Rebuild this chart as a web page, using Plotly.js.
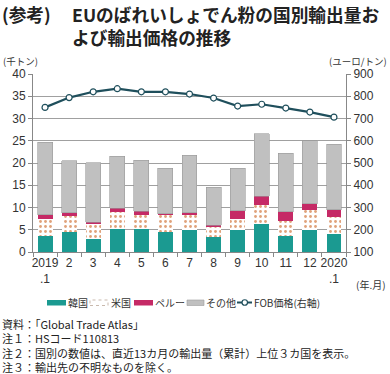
<!DOCTYPE html>
<html>
<head>
<meta charset="utf-8">
<script src="https://cdn.plot.ly/plotly-3.0.1.min.js"></script>
<style>
html,body{margin:0;padding:0;background:#fff;}
#chart{width:390px;height:374px;}
</style>
</head>
<body>
<div id="chart"></div>
<script>
var categories = ["2019<br>.1","2","3","4","5","6","7","8","9","10","11","12","2020<br>.1"];
var korea = [3.7,4.4,3.0,5.2,5.2,4.5,5.0,3.4,4.9,6.3,3.5,4.85,4.0];
var usa   = [3.7,3.7,3.3,3.8,3.2,3.9,3.4,2.2,2.6,4.3,3.4,4.65,3.8];
var peru  = [1.0,0.7,0.4,0.85,0.8,0.2,0.4,0.4,1.8,1.9,2.1,1.3,1.7];
var other = [16.3,11.7,13.4,11.65,11.4,10.2,12.9,8.6,9.5,14.1,13.2,14.2,14.7];
var fobPrice = [750,794,820,834,820,820,810,792,756,764,747,729,706];
var leftTicks = [0,5,10,15,20,25,30,35,40];
var rightTicks = [100,200,300,400,500,600,700,800,900];
var seriesNames = ['韓国','米国','ペルー','その他','FOB価格(右軸)'];
var noteLines = ['資料：「Global Trade Atlas」','注１：HSコード110813','注２：国別の数値は、直近13カ月の輸出量（累計）上位３カ国を表示。','注３：輸出先の不明なものを除く。'];

var font = "'Noto Sans CJK JP', 'Noto Sans', sans-serif";
var numFont = "'Liberation Sans', Arial, sans-serif";
var cKorea = '#1b9a91', cPeru = '#c52a66', cOther = '#c0c0c0', cLine = '#1f4f5c';
var bw = 0.62;
var traces = [
  {type:'bar', name:seriesNames[0], x:categories, y:korea, width:bw,
   marker:{color:cKorea, line:{width:0}}},
  {type:'bar', name:seriesNames[1], x:categories, y:usa, width:bw,
   marker:{color:'#ffffff', line:{width:0},
     pattern:{shape:'.', fgcolor:'#e0a27a', bgcolor:'#ffffff', size:5, solidity:0.25}}},
  {type:'bar', name:seriesNames[2], x:categories, y:peru, width:bw,
   marker:{color:cPeru, line:{width:0}}},
  {type:'bar', name:seriesNames[3], x:categories, y:other, width:bw,
   marker:{color:cOther, line:{width:0.6, color:'#9a9a9a'}}},
  {type:'scatter', mode:'lines+markers', name:seriesNames[4], x:categories, y:fobPrice, yaxis:'y2',
   line:{color:cLine, width:2.2},
   marker:{color:'#ffffff', size:6, line:{color:cLine, width:1.2}}}
];

// pixel -> paper helpers (plot area: x 33..346, y 74..252)
function px(x){ return (x-33)/313; }
function py(y){ return (252-y)/178; }

function note(text, x, y, opts){
  var a = {text:text, xref:'paper', yref:'paper', x:px(x), y:py(y), xanchor:'left', yanchor:'middle',
    showarrow:false, borderpad:0, align:'left', font:{family:font, size:11, color:'#222'}};
  for (var k in (opts||{})) a[k] = opts[k];
  return a;
}

var legY0 = 300, legY1 = 305.5, legYc = 302.5;
var shapes = [
  {type:'rect', xref:'paper', yref:'paper', x0:px(47), x1:px(66), y0:py(legY1), y1:py(legY0), fillcolor:cKorea, line:{width:0}},
  {type:'rect', xref:'paper', yref:'paper', x0:px(90), x1:px(108), y0:py(legY1), y1:py(legY0), fillcolor:'#ffffff', line:{width:1, color:'#c9b9ad', dash:'dot'}},
  {type:'rect', xref:'paper', yref:'paper', x0:px(134), x1:px(153), y0:py(legY1), y1:py(legY0), fillcolor:cPeru, line:{width:0}},
  {type:'rect', xref:'paper', yref:'paper', x0:px(187), x1:px(204), y0:py(legY1), y1:py(legY0), fillcolor:cOther, line:{width:0.6, color:'#9a9a9a'}},
  {type:'line', xref:'paper', yref:'paper', x0:px(237), x1:px(252), y0:py(legYc), y1:py(legYc), line:{width:2, color:cLine}},
  {type:'circle', xref:'paper', yref:'paper', x0:px(242), x1:px(247.5), y0:py(legYc+2.75), y1:py(legYc-2.75), fillcolor:'#ffffff', line:{width:1.2, color:cLine}}
];

var legFont = {family:font, size:10, color:'#333'};
var titleFont = {family:font, size:17.7, color:'#222'};
var unitFont = {family:font, size:9.5, color:'#333'};
var annotations = [
  note('<b>(参考)</b>', 1, 14.5, {font:titleFont}),
  note('<b>EUのばれいしょでん粉の国別輸出量お</b>', 71, 14.5, {font:titleFont}),
  note('<b>よび輸出価格の推移</b>', 71, 37, {font:titleFont}),
  note('(千トン)', 2, 61, {font:unitFont}),
  note('(ユーロ/トン)', 388, 61, {font:unitFont, xanchor:'right'}),
  note('(年.月)', 387, 284, {font:{family:font, size:10, color:'#333'}, xanchor:'right'}),
  note(seriesNames[0], 67, legYc, {font:legFont}),
  note(seriesNames[1], 110, legYc, {font:legFont}),
  note(seriesNames[2], 154, legYc, {font:legFont}),
  note(seriesNames[3], 205, legYc, {font:legFont}),
  note(seriesNames[4], 253, legYc, {font:legFont}),
  note(noteLines.join('<br>'), 1, 345, {font:{family:font, size:11, color:'#222'}})
];

var layout = {
  width:390, height:374,
  margin:{l:33, r:44, t:74, b:122},
  paper_bgcolor:'#fff', plot_bgcolor:'#fff',
  barmode:'stack',
  showlegend:false,
  font:{family:font, color:'#333'},
  xaxis:{type:'category', tickson:'boundaries', ticks:'outside', ticklen:4, tickcolor:'#888',
    tickangle:0, automargin:false,
    showline:true, linecolor:'#888', linewidth:1, showgrid:false,
    tickfont:{family:numFont, size:12, color:'#333'},
    range:[-0.5,12.5]},
  yaxis:{range:[0,40], tickvals:leftTicks, ticks:'outside', ticklen:4, tickcolor:'#888',
    showline:true, linecolor:'#888', linewidth:1, showgrid:true, gridcolor:'#a0a0a0', gridwidth:1,
    zeroline:false, automargin:false,
    tickfont:{family:numFont, size:12, color:'#333'}},
  yaxis2:{range:[100,900], tickvals:rightTicks, overlaying:'y', side:'right',
    ticks:'outside', ticklen:4, tickcolor:'#888', automargin:false,
    showline:true, linecolor:'#888', linewidth:1, showgrid:false, zeroline:false,
    tickfont:{family:numFont, size:12, color:'#333'}},
  shapes:shapes,
  annotations:annotations
};
Plotly.newPlot('chart', traces, layout, {displayModeBar:false, staticPlot:true});
</script>
</body>
</html>
